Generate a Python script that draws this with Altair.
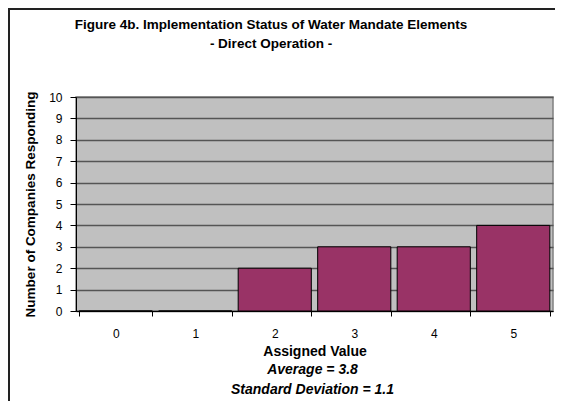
import altair as alt
import pandas as pd

# ---- data ----
categories = ["0", "1", "2", "3", "4", "5"]
counts = [0, 0, 2, 3, 3, 4]
title_lines = ["Figure 4b. Implementation Status of Water Mandate Elements", "- Direct Operation -"]
y_title = "Number of Companies Responding"
x_title = "Assigned Value"
stat_lines = ["Average = 3.8", "Standard Deviation = 1.1"]
y_ticks = list(range(0, 11))

FONT = "Liberation Sans"
W, H = 477, 214

df = pd.DataFrame({"value": categories, "count": counts})

bars = alt.Chart(df).mark_bar(color="#993366", stroke="black", strokeWidth=1).encode(
    x=alt.X(
        "value:N",
        sort=categories,
        title=x_title,
        scale=alt.Scale(paddingInner=0.08, paddingOuter=0.04),
        axis=alt.Axis(
            labelAngle=0,
            tickBand="extent",
            tickSize=5,
            labelPadding=12,
            titlePadding=5,
            domainColor="black",
            tickColor="black",
            labelFontSize=12,
            titleFontSize=14,
            titleFontWeight="bold",
            labelFont=FONT,
            titleFont=FONT,
            labelColor="black",
            titleColor="black",
            grid=False,
        ),
    ),
    y=alt.Y(
        "count:Q",
        title=y_title,
        scale=alt.Scale(domain=[0, 10], nice=False),
        axis=alt.Axis(
            values=y_ticks,
            tickSize=6,
            labelPadding=8,
            titlePadding=11,
            domainColor="black",
            tickColor="black",
            grid=True,
            gridColor="#555555",
            gridWidth=1.5,
            labelFontSize=12,
            titleFontSize=13.5,
            titleFontWeight="bold",
            labelFont=FONT,
            titleFont=FONT,
            labelColor="black",
            titleColor="black",
        ),
    ),
)

layers = [bars]

# title lines (annotation text)
title_offsets = [-68, -49]
for line, off in zip(title_lines, title_offsets):
    layers.append(
        alt.Chart(pd.DataFrame({"t": [line]})).mark_text(
            font=FONT, fontSize=13.5, fontWeight="bold",
            color="black", baseline="alphabetic", align="center"
        ).encode(text="t:N", x=alt.value(195), y=alt.value(off))
    )

# statistics lines below the axis title
stat_offsets = [59, 79]
for line, off in zip(stat_lines, stat_offsets):
    layers.append(
        alt.Chart(pd.DataFrame({"t": [line]})).mark_text(
            font=FONT, fontSize=14, fontWeight="bold", fontStyle="italic",
            color="black", baseline="middle", align="center"
        ).encode(text="t:N", x=alt.value(W / 2 - 2), y=alt.value(H + off))
    )

frame_df = pd.DataFrame({"k": [0]})
layers.append(alt.Chart(frame_df).mark_rule(color="#222222", strokeWidth=2).encode(
    x=alt.value(-67), y=alt.value(-88), y2=alt.value(H + 100)
))
layers.append(alt.Chart(frame_df).mark_rule(color="#222222", strokeWidth=2).encode(
    x=alt.value(-68), x2=alt.value(W + 2), y=alt.value(-88)
))

chart = alt.layer(*layers).properties(
    width=W,
    height=H,
    background="white",
    autosize=alt.AutoSizeParams(type="none"),
    padding={"left": 68, "top": 89, "right": 2, "bottom": 90},
).configure_view(
    fill="#C0C0C0", stroke="#808080", strokeWidth=1.5
)

chart.save("out.html", embed_options={"renderer": "svg", "actions": False})
